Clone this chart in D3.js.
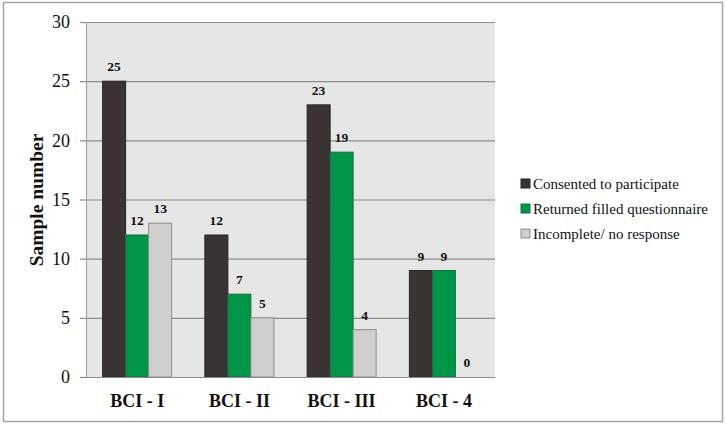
<!DOCTYPE html>
<html>
<head>
<meta charset="utf-8">
<script src="https://cdn.jsdelivr.net/npm/d3@7"></script>
<style>
  body { margin: 0; background: #fff; }
  svg text { font-family: "Liberation Serif", serif; }
</style>
</head>
<body>
<div id="chart"></div>
<script>
var categories = ["BCI - I", "BCI - II", "BCI - III", "BCI - 4"];
var seriesNames = ["Consented to participate", "Returned filled questionnaire", "Incomplete/ no response"];
var consented = [25, 12, 23, 9];
var returned = [12, 7, 19, 9];
var incomplete = [13, 5, 4, 0];
var yTicks = [0, 5, 10, 15, 20, 25, 30];
var colors = ["#393433", "#00964a", "#d1cfce"];
var strokes = ["#2a2625", "#1d6b3c", "#8f8d8c"];

var series = [consented, returned, incomplete];

// plot area inside the 726x425 page
var margin = { top: 22, right: 231, bottom: 48, left: 86 };
var width = 726 - margin.left - margin.right,
    height = 425 - margin.top - margin.bottom;

var root = d3.select("#chart").append("svg")
    .attr("width", 726)
    .attr("height", 425);

// outer frame
root.append("rect")
    .attr("x", 3.5).attr("y", 2.5)
    .attr("width", 719).attr("height", 419)
    .attr("fill", "#fff")
    .attr("stroke", "#a6a6a6")
    .attr("stroke-width", 1.5);

var svg = root.append("g")
    .attr("transform", "translate(" + margin.left + "," + margin.top + ")");

var x0 = d3.scaleBand()
    .domain(categories)
    .range([0, width])
    .paddingInner(0.325)
    .paddingOuter(0.1625);

var x1 = d3.scaleBand()
    .domain(d3.range(series.length))
    .range([0, x0.bandwidth()]);

var y = d3.scaleLinear()
    .domain([0, 30])
    .range([height, 0]);

// plot background
svg.append("rect")
    .attr("width", width)
    .attr("height", height)
    .attr("fill", "#e6e6e6");

// gridlines
svg.append("g")
    .call(d3.axisLeft(y).tickValues(yTicks).tickSize(-width).tickFormat(""))
    .call(function(g) {
        g.select(".domain").remove();
        g.selectAll("line").attr("stroke", "#8c8c8c").attr("stroke-width", 1.2);
    });

var yAxis = svg.append("g")
    .call(d3.axisLeft(y).tickValues(yTicks).tickSize(6).tickPadding(10));
yAxis.select(".domain").attr("stroke", "#a6a6a6").attr("stroke-width", 1.2);
yAxis.selectAll("line").attr("stroke", "#8c8c8c").attr("stroke-width", 1.2);
yAxis.selectAll("text")
    .attr("fill", "#111")
    .style("font-size", "18px");

// bars
var groups = svg.selectAll(".grp")
    .data(categories)
    .enter().append("g")
    .attr("class", "grp")
    .attr("transform", function(d) { return "translate(" + x0(d) + ",0)"; });

groups.selectAll("rect")
    .data(function(d, i) { return series.map(function(s, k) { return { k: k, v: s[i] }; }); })
    .enter().append("rect")
    .attr("x", function(d) { return x1(d.k); })
    .attr("y", function(d) { return y(d.v); })
    .attr("width", x1.bandwidth())
    .attr("height", function(d) { return height - y(d.v); })
    .attr("fill", function(d) { return colors[d.k]; })
    .attr("stroke", function(d) { return d.v > 0 ? strokes[d.k] : "none"; })
    .attr("stroke-width", 1);

// value labels
groups.selectAll(".val")
    .data(function(d, i) { return series.map(function(s, k) { return { k: k, v: s[i] }; }); })
    .enter().append("text")
    .attr("class", "val")
    .attr("x", function(d) { return x1(d.k) + x1.bandwidth() / 2; })
    .attr("y", function(d) { return y(d.v) - 10; })
    .attr("text-anchor", "middle")
    .style("font-size", "13.5px")
    .style("font-weight", "bold")
    .attr("fill", "#111")
    .text(function(d) { return d.v; });

// x axis
var xAxis = svg.append("g")
    .attr("transform", "translate(0," + height + ")")
    .call(d3.axisBottom(x0).tickSize(0).tickPadding(17));
xAxis.select(".domain").attr("stroke", "#8c8c8c").attr("stroke-width", 1.2);
xAxis.selectAll("text")
    .attr("fill", "#111")
    .style("font-size", "18px")
    .style("font-weight", "bold");

// y title
svg.append("text")
    .attr("transform", "rotate(-90)")
    .attr("x", -178)
    .attr("y", -43)
    .attr("text-anchor", "middle")
    .style("font-size", "19.5px")
    .style("font-weight", "bold")
    .attr("fill", "#111")
    .text("Sample number");

// legend
var legend = root.append("g")
    .attr("transform", "translate(521,184)");

var items = legend.selectAll("g")
    .data(seriesNames)
    .enter().append("g")
    .attr("transform", function(d, i) { return "translate(0," + (i * 25) + ")"; });

items.append("rect")
    .attr("x", 0).attr("y", -5)
    .attr("width", 9).attr("height", 9)
    .attr("fill", function(d, i) { return colors[i]; })
    .attr("stroke", function(d, i) { return strokes[i]; });

items.append("text")
    .attr("x", 12)
    .attr("y", 5)
    .style("font-size", "15px")
    .attr("fill", "#111")
    .text(function(d) { return d; });
</script>
</body>
</html>
